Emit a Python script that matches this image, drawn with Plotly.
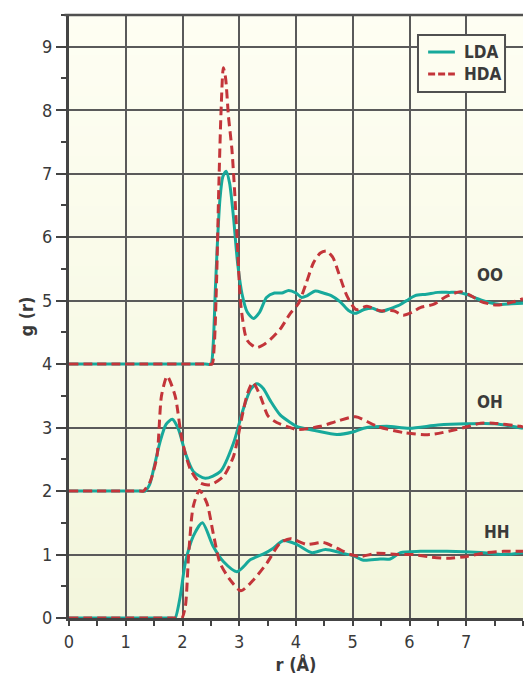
import plotly.graph_objects as go

# ---------------- data (g(r) values) ----------------
OFFSET_OO = 4.0
OFFSET_OH = 2.0
OFFSET_HH = 0.0

r_oo_lda = [0, 2.40, 2.50, 2.54, 2.58, 2.62, 2.66, 2.71, 2.77, 2.83, 2.90, 2.97, 3.05, 3.14,
            3.25, 3.36, 3.48, 3.62, 3.75, 3.87, 4.00, 4.10, 4.20, 4.34, 4.48, 4.62, 4.78,
            4.92, 5.05, 5.20, 5.35, 5.50, 5.65, 5.80, 5.95, 6.10, 6.30, 6.50, 6.70, 6.85,
            7.00, 7.20, 7.40, 7.60, 7.80, 8.00]
g_oo_lda = [0, 0, 0, 0.3, 1.2, 2.0, 2.6, 2.95, 3.04, 2.85, 2.3, 1.6, 1.1, 0.82,
            0.72, 0.82, 1.05, 1.12, 1.12, 1.16, 1.12, 1.05, 1.08, 1.15, 1.12, 1.08, 0.98,
            0.85, 0.80, 0.86, 0.88, 0.83, 0.87, 0.92, 1.00, 1.08, 1.10, 1.13, 1.13, 1.13,
            1.10, 1.03, 0.97, 0.94, 0.95, 0.96]

r_oo_hda = [0, 2.45, 2.52, 2.56, 2.60, 2.64, 2.68, 2.72, 2.76, 2.81, 2.87, 2.92, 2.96,
            3.03, 3.13, 3.22, 3.31, 3.42, 3.55, 3.72, 3.90, 4.04, 4.17, 4.31, 4.43, 4.54,
            4.65, 4.75, 4.90, 5.06, 5.25, 5.48, 5.72, 5.89, 6.05, 6.19, 6.42, 6.66, 6.90,
            7.08, 7.25, 7.54, 7.83, 8.00]
g_oo_hda = [0, 0, 0, 0.3, 1.3, 2.8, 4.0, 4.67, 4.5, 3.9, 3.39, 2.7, 2.02,
            0.91, 0.39, 0.30, 0.26, 0.30, 0.39, 0.55, 0.80, 0.95, 1.25, 1.60, 1.75, 1.78,
            1.68, 1.44, 1.07, 0.86, 0.91, 0.84, 0.84, 0.77, 0.82, 0.89, 0.94, 1.07, 1.14,
            1.08, 0.99, 0.93, 0.98, 1.03]

r_oh_lda = [0, 1.28, 1.34, 1.42, 1.49, 1.60, 1.71, 1.82, 1.93, 2.05, 2.19, 2.40, 2.67,
            2.90, 3.07, 3.20, 3.31, 3.42, 3.55, 3.72, 3.90, 4.01, 4.35, 4.72, 5.00, 5.19,
            5.60, 6.00, 6.50, 7.00, 7.50, 8.00]
g_oh_lda = [0, 0, 0, 0.1, 0.34, 0.76, 1.05, 1.13, 0.97, 0.60, 0.31, 0.20, 0.31,
            0.76, 1.29, 1.60, 1.69, 1.62, 1.42, 1.20, 1.08, 1.02, 0.95, 0.89, 0.93, 0.99,
            1.02, 0.99, 1.04, 1.06, 1.06, 0.99]

r_oh_hda = [0, 1.25, 1.31, 1.43, 1.55, 1.63, 1.73, 1.87, 1.99, 2.14, 2.31, 2.49, 2.72,
            2.90, 3.05, 3.15, 3.24, 3.37, 3.51, 3.66, 3.90, 4.01, 4.43, 4.72, 5.05, 5.43,
            5.90, 6.37, 6.96, 7.25, 7.48, 7.95, 8.00]
g_oh_hda = [0, 0, 0, 0.15, 0.55, 1.50, 1.81, 1.50, 0.81, 0.34, 0.13, 0.10, 0.23,
            0.55, 1.18, 1.55, 1.71, 1.50, 1.18, 1.08, 1.00, 0.97, 1.02, 1.10, 1.17, 1.02,
            0.92, 0.89, 1.00, 1.07, 1.07, 1.02, 1.01]

r_hh_lda = [0, 1.82, 1.87, 1.96, 2.05, 2.19, 2.35, 2.54, 2.72, 2.96, 3.20, 3.43, 3.60,
            3.78, 4.01, 4.28, 4.52, 4.78, 5.01, 5.19, 5.48, 5.66, 5.84, 6.19, 6.66, 7.25,
            7.66, 8.00]
g_hh_lda = [0, 0, 0, 0.34, 0.87, 1.29, 1.50, 1.13, 0.89, 0.73, 0.92, 1.01, 1.10,
            1.22, 1.16, 1.03, 1.08, 1.03, 0.98, 0.91, 0.93, 0.93, 1.03, 1.05, 1.05, 1.03,
            1.00, 1.03]

r_hh_hda = [0, 1.94, 1.99, 2.05, 2.11, 2.19, 2.30, 2.43, 2.54, 2.66, 2.84, 3.03, 3.25,
            3.49, 3.72, 3.90, 4.19, 4.48, 4.72, 4.96, 5.13, 5.43, 5.78, 6.07, 6.37, 6.66,
            7.01, 7.36, 7.66, 8.00]
g_hh_hda = [0, 0, 0, 0.18, 1.02, 1.76, 2.01, 1.81, 1.34, 0.87, 0.60, 0.43, 0.60,
            0.87, 1.18, 1.25, 1.16, 1.19, 1.10, 1.00, 0.97, 1.02, 1.00, 1.00, 0.96, 0.94,
            0.97, 1.03, 1.05, 1.05]

x_ticks = [0, 1, 2, 3, 4, 5, 6, 7, 8]
y_ticks = [0, 1, 2, 3, 4, 5, 6, 7, 8, 9]
labels = ["OO", "OH", "HH"]
label_pos_r = [7.42, 7.42, 7.55]
label_pos_g = [5.40, 3.40, 1.36]
series_names = ["LDA", "HDA"]

X_RANGE = [0, 8]
Y_RANGE = [0, 9.5]

# ---------------- style ----------------
TEAL = "#17a99b"
RED = "#c3353a"
INK = "#3a3a3a"
FONT = "DejaVu Sans Condensed, Roboto, sans-serif"
BG_BOTTOM = (243, 246, 220)
BG_TOP = (254, 254, 243)
N_BANDS = 60
HDA_DASH = "9px,5px"

fig = go.Figure()

# gradient background drawn as thin bands in paper coordinates (below grid)
for i in range(N_BANDS):
    t = (i + 0.5) / N_BANDS
    c = tuple(round(BG_BOTTOM[k] + (BG_TOP[k] - BG_BOTTOM[k]) * t) for k in range(3))
    fig.add_shape(type="rect", xref="paper", yref="paper",
                  x0=0, x1=1, y0=i / N_BANDS, y1=(i + 1) / N_BANDS + 0.002,
                  line=dict(width=0), fillcolor="rgb(%d,%d,%d)" % c, layer="below")

def add_pair(r_l, g_l, r_h, g_h, off):
    fig.add_trace(go.Scatter(
        x=r_l, y=[v + off for v in g_l], mode="lines", name=series_names[0],
        line=dict(color=TEAL, width=3, shape="spline", smoothing=0.7),
        showlegend=False))
    fig.add_trace(go.Scatter(
        x=r_h, y=[v + off for v in g_h], mode="lines", name=series_names[1],
        line=dict(color=RED, width=3, dash=HDA_DASH, shape="spline", smoothing=0.7),
        showlegend=False))

add_pair(r_oo_lda, g_oo_lda, r_oo_hda, g_oo_hda, OFFSET_OO)
add_pair(r_oh_lda, g_oh_lda, r_oh_hda, g_oh_hda, OFFSET_OH)
add_pair(r_hh_lda, g_hh_lda, r_hh_hda, g_hh_hda, OFFSET_HH)

for lab, xr, yg in zip(labels, label_pos_r, label_pos_g):
    fig.add_annotation(x=xr, y=yg, text=lab, showarrow=False,
                       font=dict(family=FONT, size=17, color=INK, weight="bold"))

# top border
fig.add_shape(type="line", xref="paper", yref="paper", x0=-0.01, x1=1, y0=1, y1=1,
              line=dict(color="#505050", width=2.5), layer="above")

# legend box (drawn manually to match the compact original)
LEG = dict(x0=0.7687, x1=0.9604, y0=0.8723, y1=0.9668)
fig.add_shape(type="rect", xref="paper", yref="paper", **LEG,
              fillcolor="#fdfdf0", line=dict(color="#505050", width=2), layer="above")
leg_rows = [0.9386, 0.9022]
leg_styles = [dict(color=TEAL, width=3), dict(color=RED, width=3, dash="7px,3px")]
for name, yy, st in zip(series_names, leg_rows, leg_styles):
    fig.add_shape(type="line", xref="paper", yref="paper", x0=0.791, x1=0.850,
                  y0=yy, y1=yy, line=st, layer="above")
    fig.add_annotation(xref="paper", yref="paper", x=0.866, y=yy, text=name,
                       showarrow=False, xanchor="left", yanchor="middle",
                       font=dict(family=FONT, size=17, color=INK, weight="bold"))

fig.update_layout(
    width=525, height=679,
    margin=dict(l=69, r=2, t=15, b=61),
    paper_bgcolor="white", plot_bgcolor="white",
    font=dict(family=FONT, size=18, color=INK),
    showlegend=False,
    xaxis=dict(range=X_RANGE, tickvals=x_ticks, showgrid=True,
               gridcolor="#5a5a5a", gridwidth=1.5, zeroline=False,
               showline=True, linecolor="#444", linewidth=3,
               ticks="outside", ticklen=5, tickwidth=1.5, tickcolor="#444",
               minor=dict(dtick=0.5, ticks="outside", ticklen=5, tickwidth=1.5,
                          tickcolor="#444", showgrid=False),
               tickfont=dict(size=18),
               title=dict(text="r (Å)", font=dict(size=18, weight="bold"), standoff=8)),
    yaxis=dict(range=Y_RANGE, tickvals=y_ticks, showgrid=True,
               gridcolor="#5a5a5a", gridwidth=1.5, zeroline=False,
               showline=True, linecolor="#444", linewidth=3,
               ticks="outside", ticklen=10, tickwidth=1.5, tickcolor="#444",
               minor=dict(dtick=0.5, ticks="outside", ticklen=5, tickwidth=1.5,
                          tickcolor="#444", showgrid=False),
               tickfont=dict(size=18),
               title=dict(text="g (r)", font=dict(size=18, weight="bold"), standoff=4)),
)

fig.write_html("out.html")
